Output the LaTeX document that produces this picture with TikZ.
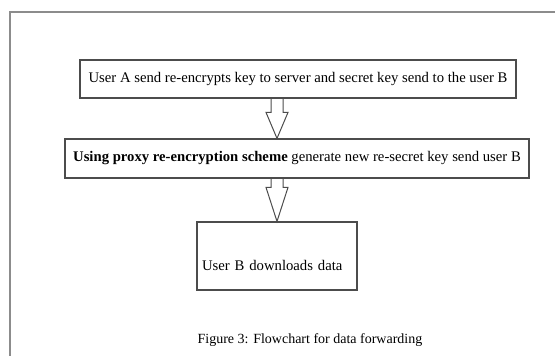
\documentclass[tikz,border=0pt]{standalone}
\usepackage{fontspec}
\setmainfont{Liberation Serif}
\usetikzlibrary{calc}

% hollow block arrow: from, to, head length
\newcommand{\hollowarrow}[3]{%
  \draw[hollow] let \p1=(#1), \p2=(#2) in
    (\x1-6pt,\y1) -- (\x1-6pt,\y2+#3) -- (\x1-11pt,\y2+#3) -- (\x2,\y2)
    -- (\x1+11pt,\y2+#3) -- (\x1+6pt,\y2+#3) -- (\x1+6pt,\y1);}

\begin{document}
\begin{tikzpicture}[x=1pt,y=-1pt,
  box/.style={draw=black!70,line width=1.2pt,inner sep=0pt,font=\fontsize{14.7}{17}\selectfont},
  hollow/.style={draw=black!70,line width=1pt,line join=miter},
  frame/.style={draw=black!45,line width=1.4pt}]
  \useasboundingbox (0,0) rectangle (555,356);
  \draw[frame] (555,12) -- (10,12) -- (10,356);

  \node[box,minimum width=436,minimum height=38] (usera) at (298,79)
    {User A send re-encrypts key to server and secret key send to the user B};
  \node[box,minimum width=464,minimum height=39] (proxy) at (297,158.5)
    {\textbf{Using proxy re-encryption scheme} generate new re-secret key send user B};
  \node[box,minimum width=160,minimum height=68,text width=150pt,
        text height=30pt,text depth=2pt] (userb) at (277,256)
    {User B downloads data};
  \node[font=\fontsize{14}{16}\selectfont] (caption) at (310,340)
    {Figure 3: Flowchart for data forwarding};

  \hollowarrow{userb.north |- usera.south}{userb.north |- proxy.north}{26pt}
  \hollowarrow{userb.north |- proxy.south}{userb.north}{34pt}
\end{tikzpicture}
\end{document}
